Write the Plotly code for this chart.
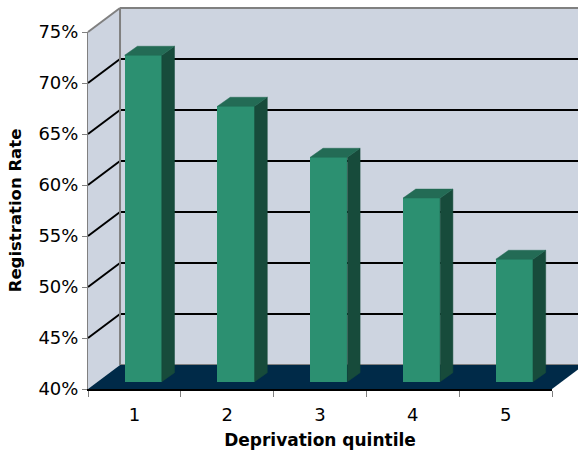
import plotly.graph_objects as go

categories = [1, 2, 3, 4, 5]
values = [72, 67, 62, 58, 52]
y_ticks = [40, 45, 50, 55, 60, 65, 70, 75]
y_labels = ["40%", "45%", "50%", "55%", "60%", "65%", "70%", "75%"]

# pseudo-3D geometry, in axis units
WALL_DX, WALL_DY = 0.345, 2.35
BAR_OFF_X, BAR_OFF_Y = 0.095, 0.72
BAR_W = 0.40
DEPTH_DX, DEPTH_DY = 0.137, 0.88

X0, X1 = 0.5, 5.5
Y0, Y1 = 40, 75
L, R, T, B = 87.5, 26.3, 32, 62
W, H = 578, 451

FRONT, SIDE, TOP = "#2C9071", "#174B3B", "#236B55"
WALL, FLOOR = "#CDD4E0", "#002A48"
GRAY = "#808080"


def px(x):
    return (x - X0) / (X1 - X0)


def py(y):
    return (y - Y0) / (Y1 - Y0)


def poly(points):
    return "M" + " L".join(f"{px(x):.5f},{py(y):.5f}" for x, y in points) + " Z"


def shape_path(points, fill, line=None, width=0):
    return dict(type="path", xref="paper", yref="paper", layer="below", path=poly(points),
                fillcolor=fill, line=dict(color=line or fill, width=width))


def shape_line(p, q, color, width):
    return dict(type="line", xref="paper", yref="paper", layer="below",
                x0=px(p[0]), y0=py(p[1]), x1=px(q[0]), y1=py(q[1]),
                line=dict(color=color, width=width))


bx0, bx1 = X0 + WALL_DX, X1 + WALL_DX
by0, by1 = Y0 + WALL_DY, Y1 + WALL_DY
shapes = [
    shape_path([(X0, Y0), (bx0, by0), (bx0, by1), (X0, Y1)], WALL),
    shape_path([(bx0, by0), (bx1, by0), (bx1, by1), (bx0, by1)], WALL),
]
for t in y_ticks[1:-1]:
    shapes.append(shape_line((X0, t), (bx0, t + WALL_DY), "#000000", 2))
    shapes.append(shape_line((bx0, t + WALL_DY), (bx1, t + WALL_DY), "#000000", 2))
shapes += [
    shape_line((X0, Y1), (bx0, by1), GRAY, 2),
    shape_line((bx0, by1), (bx1, by1), GRAY, 2),
    shape_line((bx0, by0), (bx0, by1), GRAY, 2),
    shape_line((bx0, by0), (bx1, by0), GRAY, 2),
    shape_path([(X0, Y0), (X1, Y0), (bx1, by0), (bx0, by0)], FLOOR),
]

fig = go.Figure()
fig.add_trace(go.Bar(
    x=[c + BAR_OFF_X for c in categories],
    y=[v - Y0 for v in values],
    base=Y0 + BAR_OFF_Y,
    width=BAR_W,
    marker=dict(color=FRONT, line=dict(width=0)),
    cliponaxis=False,
    showlegend=False,
))
for c, v in zip(categories, values):
    xl = c + BAR_OFF_X - BAR_W / 2
    xr = xl + BAR_W
    yt = v + BAR_OFF_Y
    yb = Y0 + BAR_OFF_Y
    fig.add_trace(go.Scatter(
        x=[xr, xr + DEPTH_DX, xr + DEPTH_DX, xr, xr],
        y=[yb, yb + DEPTH_DY, yt + DEPTH_DY, yt, yb],
        mode="lines", fill="toself", fillcolor=SIDE, line=dict(width=0.5, color=SIDE),
        cliponaxis=False, showlegend=False, hoverinfo="skip"))
    fig.add_trace(go.Scatter(
        x=[xl, xr, xr + DEPTH_DX, xl + DEPTH_DX, xl],
        y=[yt, yt, yt + DEPTH_DY, yt + DEPTH_DY, yt],
        mode="lines", fill="toself", fillcolor=TOP, line=dict(width=0.5, color=TOP),
        cliponaxis=False, showlegend=False, hoverinfo="skip"))

font = dict(family="DejaVu Sans", size=18, color="#000000")
xtitle_font = dict(family="DejaVu Sans", size=17, color="#000000", weight="bold")
ytitle_font = dict(family="DejaVu Sans", size=16.5, color="#000000", weight="bold")

fig.update_layout(
    width=W, height=H, autosize=False,
    margin=dict(l=L, r=R, t=T, b=B, pad=0),
    paper_bgcolor="#FFFFFF", plot_bgcolor="rgba(0,0,0,0)",
    shapes=shapes, bargap=0,
    xaxis=dict(
        range=[X0, X1], tickmode="array", tickvals=categories, ticktext=[str(c) for c in categories],
        ticks="", tickfont=font, showgrid=False, zeroline=False,
        showline=True, linecolor="#000000", linewidth=2,
        ticklabelstandoff=8, automargin=False,
        minor=dict(tickmode="array", tickvals=[0.5, 1.5, 2.5, 3.5, 4.5, 5.5], ticks="outside",
                   ticklen=6, tickcolor=GRAY, tickwidth=1, showgrid=False),
        title=dict(text="Deprivation quintile", font=xtitle_font, standoff=11),
    ),
    yaxis=dict(
        range=[Y0, Y1], tickmode="array", tickvals=y_ticks, ticktext=y_labels,
        ticks="outside", ticklen=5, tickcolor=GRAY, tickwidth=1, tickfont=font,
        showgrid=False, zeroline=False, showline=True, linecolor=GRAY, linewidth=1,
        automargin=False,
        title=dict(text="Registration Rate", font=ytitle_font, standoff=12),
    ),
)
fig.write_html("out.html", config={"displayModeBar": False},
               post_script="document.body.style.margin='0';")
